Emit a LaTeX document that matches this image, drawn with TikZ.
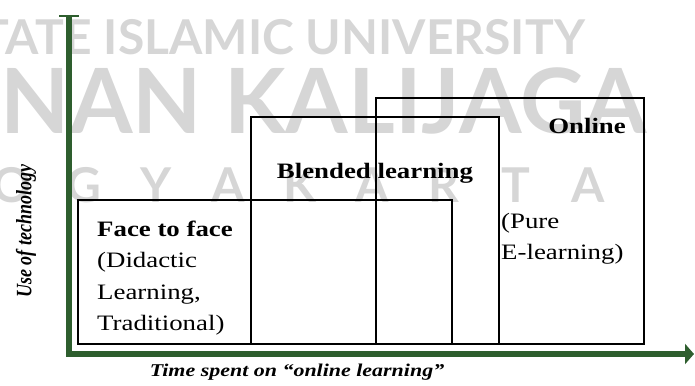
\documentclass[tikz,border=0pt]{standalone}
\usepackage{fontspec}
\setmainfont{Liberation Serif}
\newfontfamily\widefont[FakeStretch=1.22]{Liberation Serif}
\newfontfamily\markfont{Lato}
\usetikzlibrary{positioning,arrows.meta}
\definecolor{axisgreen}{RGB}{46,94,46}
\definecolor{markgray}{RGB}{214,214,214}

\begin{document}
\begin{tikzpicture}[x=1pt,y=-1pt,
  box/.style={draw,line width=1.5pt,inner sep=0pt,outer sep=0pt,anchor=north west},
  boxtext/.style={inner sep=0pt,font=\widefont\fontsize{22}{31.3}\selectfont},
  axislabel/.style={inner sep=0pt,font=\widefont\fontsize{18}{22}\selectfont\bfseries\itshape},
  axis/.style={draw=axisgreen,line width=6.5pt,line join=miter},
  wmark/.style={text=markgray,inner sep=0pt}]
  \useasboundingbox (0,0) rectangle (695,385);
  \clip (0,0) rectangle (695,385);

  % watermark
  \node[wmark,anchor=base east,font=\markfont\bfseries\fontsize{48}{48}\selectfont] (wm1) at (585,55) {STATE ISLAMIC UNIVERSITY};
  \node[wmark,anchor=base east,font=\markfont\bfseries\fontsize{90}{90}\selectfont] (wm2) at (647,133) {SUNAN KALIJAGA};
  \foreach \ch [count=\i] in {Y,O,G,Y,A,K,A,R,T,A}
    \node[wmark,anchor=base,font=\markfont\bfseries\fontsize{48}{48}\selectfont] (wm3-\i) at ({588-(10-\i)*72},202) {\ch};

  % the three modes
  \node[box,minimum width=374pt,minimum height=144pt] (face)   at (78,200) {};
  \node[box,minimum width=248pt,minimum height=227pt] (blend)  at (251,117) {};
  \node[box,minimum width=268pt,minimum height=246pt] (online) at (376,98) {};

  \node[boxtext,align=left,below right=21pt and 19pt of face.north west] (facetext) {\textbf{Face to face}\\(Didactic\\Learning,\\Traditional)};
  \node[boxtext,below=46pt of blend.north]                   (blendtext)  {\textbf{Blended learning}};
  \node[boxtext,below left=20pt and 18pt of online.north east] (onlinetext) {\textbf{Online}};
  \node[boxtext,align=left,below right=96pt and 2pt of blend.north east] (puretext) {(Pure\\E-learning)};

  % axes
  \coordinate (ytop) at (69,15);
  \coordinate (orig) at (69,354);
  \coordinate (xend) at (694,354);
  \draw[axis,{Bar[width=20pt,line width'=2pt]}-{Triangle[length=9pt,width=20pt]}] (ytop) -- (orig) -- (xend);

  \node[axislabel] (xlabel) at (297,372) {Time spent on “online learning”};
  \node[axislabel,font=\fontsize{18}{22}\selectfont\bfseries\itshape,xscale=1.22,rotate=90] (ylabel) at (26,231) {Use of technology};
\end{tikzpicture}
\end{document}
